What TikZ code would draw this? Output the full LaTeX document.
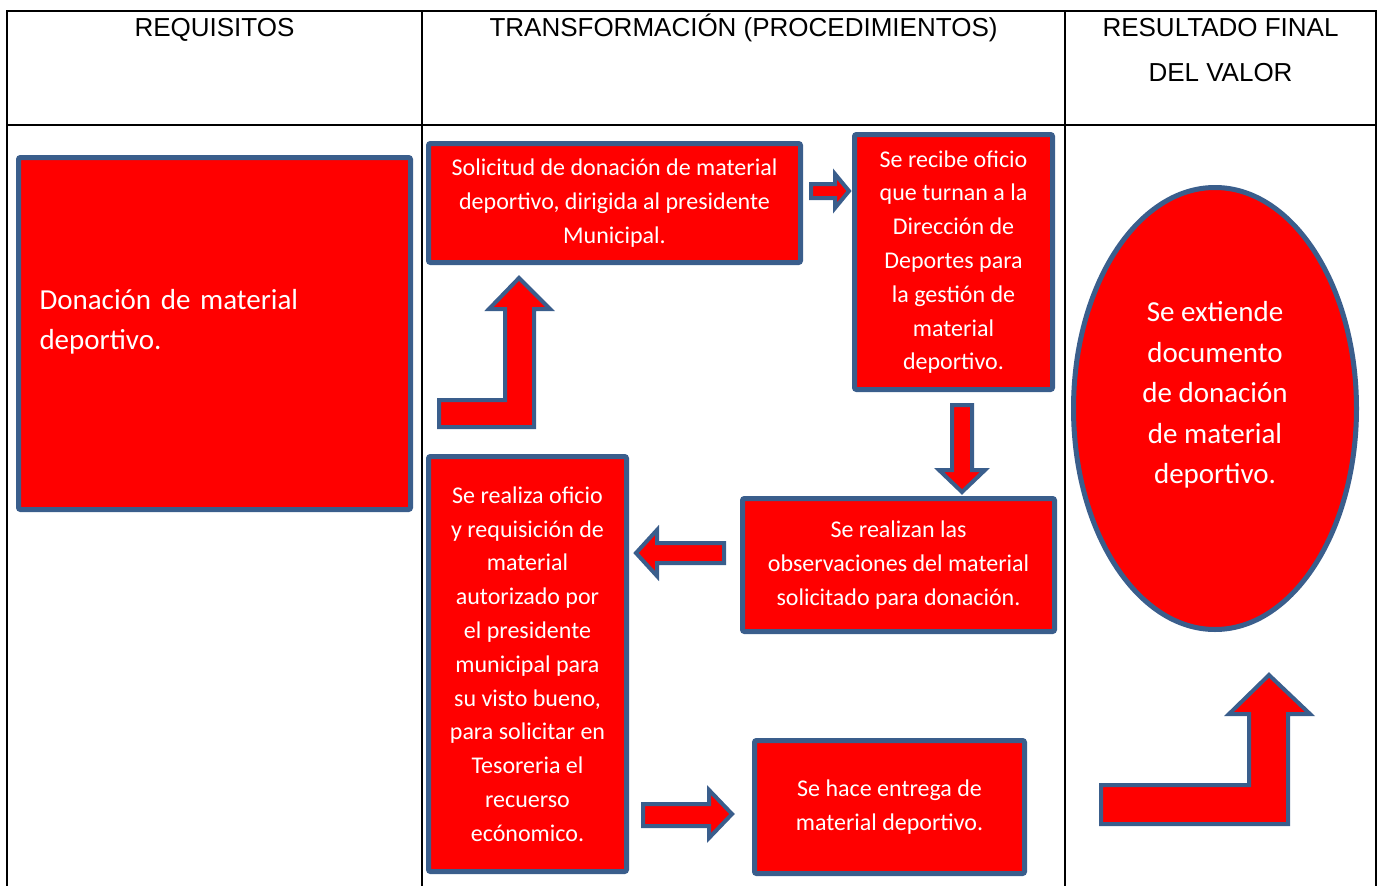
\documentclass[tikz,border=0pt]{standalone}
\usepackage{fontspec}
\setmainfont{Carlito}
\newfontfamily\headfont{Liberation Sans}
\usetikzlibrary{shapes.geometric}
\definecolor{stepblue}{HTML}{3A5E8C}
\tikzset{
  tabline/.style={draw=black, line width=2pt},
  headtext/.style={font=\headfont\fontsize{26}{45}\selectfont, inner sep=0pt},
  stepbox/.style={draw=stepblue, fill=red, line width=5pt, rounded corners=2pt, text=white, align=center, inner sep=0pt, font=\fontsize{24}{33.8}\selectfont},
  bigtext/.style={text=white, inner sep=0pt, font=\fontsize{29}{40.5}\selectfont},
  blockarrow/.style={draw=stepblue, fill=red, line width=4pt, line join=miter}
}
\begin{document}
\begin{tikzpicture}[x=1pt,y=-1pt]
\useasboundingbox (0,0) rectangle (1379,886);

% table
\draw[tabline] (7,886) -- (7,11) -- (1376,11) -- (1376,886);
\draw[tabline] (7,125) -- (1376,125);
\draw[tabline] (422,11) -- (422,886);
\draw[tabline] (1065,11) -- (1065,886);

\node[headtext, anchor=base] (req) at (214.5,36) {REQUISITOS};
\node[headtext, anchor=base] (trans) at (743.5,36) {TRANSFORMACIÓN (PROCEDIMIENTOS)};
\node[headtext, anchor=base, align=center] (valor) at (1220.5,81) {RESULTADO FINAL\\DEL VALOR};

% requisitos
\node[stepbox, minimum width=392pt, minimum height=352pt] (don) at (214.5,333.5) {};
\node[bigtext, text width=350pt, align=left] (dontext) at (214.5,322) {Donación de material\\deportivo.};

% procedimientos
\node[stepbox, minimum width=372pt, minimum height=119pt] (sol) at (614.5,203)
  {Solicitud de donación de material\\deportivo, dirigida al presidente\\Municipal.};
\node[stepbox, minimum width=198pt, minimum height=255pt] (rec) at (953.5,262)
  {Se recibe oficio\\que turnan a la\\Dirección de\\Deportes para\\la gestión de\\material\\deportivo.};
\node[stepbox, minimum width=312pt, minimum height=133pt] (obs) at (898.5,565)
  {Se realizan las\\observaciones del material\\solicitado para donación.};
\node[stepbox, minimum width=198pt, minimum height=415pt] (ofi) at (527.5,664)
  {Se realiza oficio\\y requisición de\\material\\autorizado por\\el presidente\\municipal para\\su visto bueno,\\para solicitar en\\Tesoreria el\\recuerso\\ecónomico.};
\node[stepbox, minimum width=270pt, minimum height=133pt] (ent) at (889.5,807)
  {Se hace entrega de\\material deportivo.};

% resultado
\node[stepbox, ellipse, minimum width=283pt, minimum height=442pt] (res) at (1215,408.5) {};
\node[bigtext, align=center] (restext) at (1215,395) {Se extiende\\documento\\de donación\\de material\\deportivo.};

% block arrows
\draw[blockarrow] (439,427) -- (534,427) -- (534,309) -- (550,309) -- (519,278) -- (489,309) -- (505,309) -- (505,400) -- (439,400) -- cycle;
\draw[blockarrow] (811,184) -- (835,184) -- (835,174) -- (849,191) -- (835,208) -- (835,198) -- (811,198) -- cycle;
\draw[blockarrow] (952,405) -- (972,405) -- (972,470) -- (985,470) -- (962,492) -- (939,470) -- (952,470) -- cycle;
\draw[blockarrow] (724,543) -- (724,563) -- (657,563) -- (657,576) -- (636,553) -- (657,530) -- (657,543) -- cycle;
\draw[blockarrow] (643,804) -- (709,804) -- (709,790) -- (732,814) -- (709,838) -- (709,826) -- (643,826) -- cycle;
\draw[blockarrow] (1101,824) -- (1288,824) -- (1288,714) -- (1310,714) -- (1269,675) -- (1229,714) -- (1249,714) -- (1249,785) -- (1101,785) -- cycle;

\end{tikzpicture}
\end{document}
